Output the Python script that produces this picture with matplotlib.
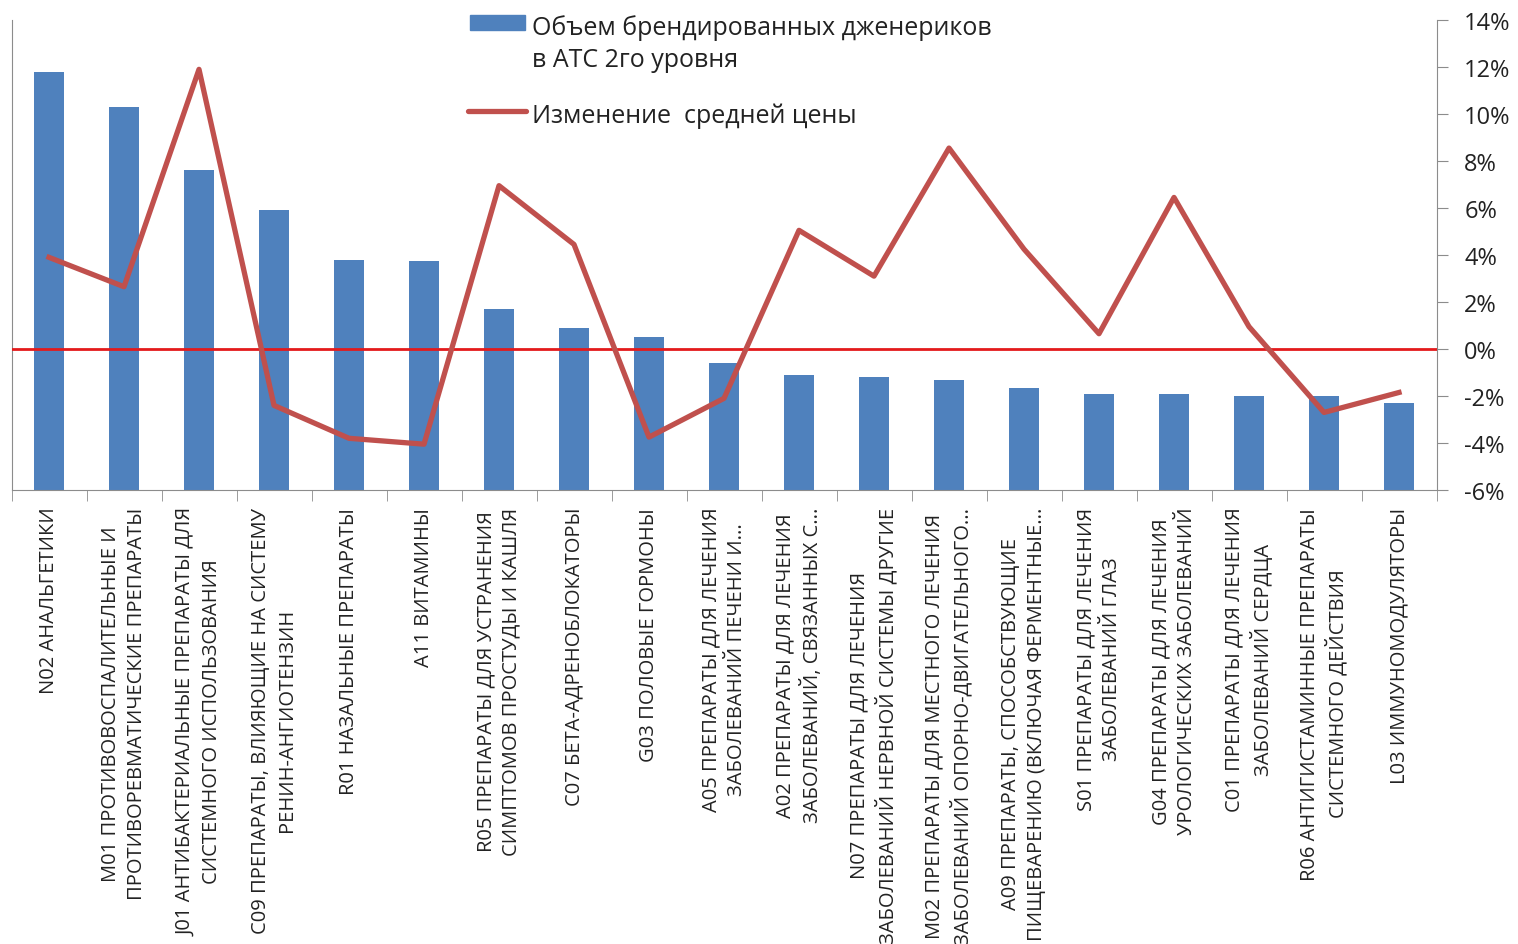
import matplotlib
matplotlib.use('Agg')
import matplotlib.pyplot as plt
from matplotlib.ticker import FuncFormatter
from matplotlib.lines import Line2D
from matplotlib.patches import Rectangle
import numpy as np

categories = [
    'N02 АНАЛЬГЕТИКИ',
    'M01 ПРОТИВОВОСПАЛИТЕЛЬНЫЕ И\nПРОТИВОРЕВМАТИЧЕСКИЕ ПРЕПАРАТЫ',
    'J01 АНТИБАКТЕРИАЛЬНЫЕ ПРЕПАРАТЫ ДЛЯ\nСИСТЕМНОГО ИСПОЛЬЗОВАНИЯ',
    'C09 ПРЕПАРАТЫ, ВЛИЯЮЩИЕ НА СИСТЕМУ\nРЕНИН-АНГИОТЕНЗИН',
    'R01 НАЗАЛЬНЫЕ ПРЕПАРАТЫ',
    'A11 ВИТАМИНЫ',
    'R05 ПРЕПАРАТЫ ДЛЯ УСТРАНЕНИЯ\nСИМПТОМОВ ПРОСТУДЫ И КАШЛЯ',
    'C07 БЕТА-АДРЕНОБЛОКАТОРЫ',
    'G03 ПОЛОВЫЕ ГОРМОНЫ',
    'A05 ПРЕПАРАТЫ ДЛЯ ЛЕЧЕНИЯ\nЗАБОЛЕВАНИЙ ПЕЧЕНИ И...',
    'A02 ПРЕПАРАТЫ ДЛЯ ЛЕЧЕНИЯ\nЗАБОЛЕВАНИЙ, СВЯЗАННЫХ С...',
    'N07 ПРЕПАРАТЫ ДЛЯ ЛЕЧЕНИЯ\nЗАБОЛЕВАНИЙ НЕРВНОЙ СИСТЕМЫ ДРУГИЕ',
    'M02 ПРЕПАРАТЫ ДЛЯ МЕСТНОГО ЛЕЧЕНИЯ\nЗАБОЛЕВАНИЙ ОПОРНО-ДВИГАТЕЛЬНОГО...',
    'A09 ПРЕПАРАТЫ, СПОСОБСТВУЮЩИЕ\nПИЩЕВАРЕНИЮ (ВКЛЮЧАЯ ФЕРМЕНТНЫЕ...',
    'S01 ПРЕПАРАТЫ ДЛЯ ЛЕЧЕНИЯ\nЗАБОЛЕВАНИЙ ГЛАЗ',
    'G04 ПРЕПАРАТЫ ДЛЯ ЛЕЧЕНИЯ\nУРОЛОГИЧЕСКИХ ЗАБОЛЕВАНИЙ',
    'C01 ПРЕПАРАТЫ ДЛЯ ЛЕЧЕНИЯ\nЗАБОЛЕВАНИЙ СЕРДЦА',
    'R06 АНТИГИСТАМИННЫЕ ПРЕПАРАТЫ\nСИСТЕМНОГО ДЕЙСТВИЯ',
    'L03 ИММУНОМОДУЛЯТОРЫ',
]

# bar heights (hidden left axis, arbitrary units)
brand_volume = [17.8, 16.3, 13.6, 11.9, 9.8, 9.75, 7.7, 6.9, 6.5, 5.4,
                4.9, 4.8, 4.7, 4.35, 4.1, 4.1, 4.0, 4.0, 3.7]

# change of average price, %
price_change = [3.9, 2.65, 11.9, -2.4, -3.8, -4.05, 6.95, 4.45, -3.75, -2.1,
                5.05, 3.1, 8.55, 4.25, 0.65, 6.45, 0.95, -2.7, -1.85]

pct_ticks = list(range(-6, 15, 2))

legend_bar = 'Объем брендированных дженериков'
legend_bar2 = 'в АТС 2го уровня'
legend_line = 'Изменение  средней цены'

BAR_COLOR = '#4f81bd'
LINE_COLOR = '#c0504d'
ZERO_COLOR = '#e31a1c'
AXIS_GRAY = '#8c8c8c'
TEXT_COLOR = '#222222'

plt.rcParams['font.family'] = ['Open Sans', 'DejaVu Sans']

W, H = 1518, 945


def fx(px):
    return px / W


def fy(py):
    return 1 - py / H


fig = plt.figure(figsize=(W / 100, H / 100), dpi=100)
ax = fig.add_axes([fx(11.5), fy(491), 1425 / W, 470 / H])

x = np.arange(len(categories))
ax.bar(x, brand_volume, width=0.39, color=BAR_COLOR, zorder=2)
ax.set_xlim(-0.5, len(categories) - 0.5)
ax.set_ylim(0, 20)
ax.set_yticks([])
ax.spines['top'].set_visible(False)
ax.spines['right'].set_visible(False)
for s in ('left', 'bottom'):
    ax.spines[s].set_color(AXIS_GRAY)

ax.set_xticks(x)
ax.set_xticklabels(categories, rotation=90, ha='center', va='top',
                   multialignment='center', fontsize=14.5,
                   linespacing=1.35, color=TEXT_COLOR)
ax.tick_params(axis='x', which='major', length=0, pad=12)
ax.set_xticks(np.arange(len(categories) + 1) - 0.5, minor=True)
ax.tick_params(axis='x', which='minor', length=8, color=AXIS_GRAY)

ax2 = ax.twinx()
ax2.set_ylim(-6, 14)
ax2.set_yticks(pct_ticks)
ax2.yaxis.set_major_formatter(FuncFormatter(lambda v, p: '%d%%' % v))
ax2.tick_params(axis='y', length=8, color=AXIS_GRAY, labelsize=17,
                pad=12, labelcolor=TEXT_COLOR)
for s in ('top', 'left', 'bottom'):
    ax2.spines[s].set_visible(False)
ax2.spines['right'].set_color(AXIS_GRAY)

ax2.axhline(0, color=ZERO_COLOR, lw=2, zorder=3)
ax2.plot(x, price_change, color=LINE_COLOR, lw=3.8, zorder=4)

# legend drawn by hand so the patch sits next to the first text line
fig.add_artist(Rectangle((fx(470), fy(31)), 55 / W, 15 / H,
                         transform=fig.transFigure, color=BAR_COLOR))
fig.add_artist(Line2D([fx(468), fx(526)], [fy(112), fy(112)],
                      transform=fig.transFigure, color=LINE_COLOR, lw=3.8,
                      solid_capstyle='round'))
fig.text(fx(532), fy(35), legend_bar, va='baseline', fontsize=18, color=TEXT_COLOR)
fig.text(fx(532), fy(67), legend_bar2, va='baseline', fontsize=18, color=TEXT_COLOR)
fig.text(fx(532), fy(123), legend_line, va='baseline', fontsize=18, color=TEXT_COLOR)

fig.savefig('out.png', dpi=100)
